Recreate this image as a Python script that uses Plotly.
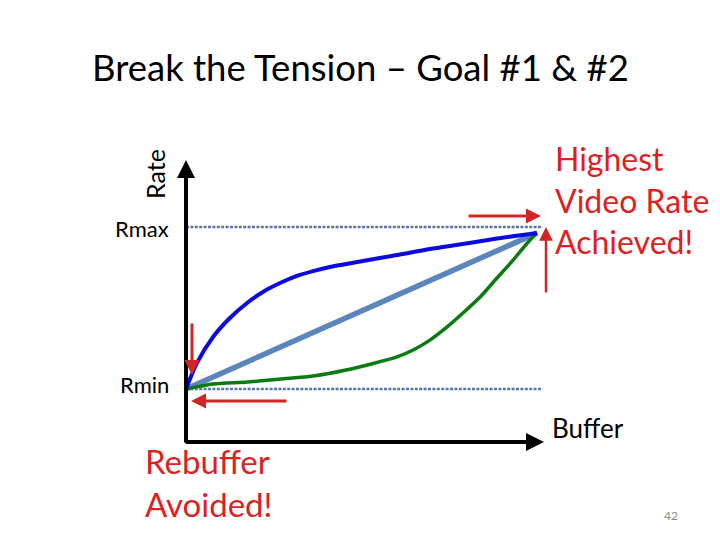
import plotly.graph_objects as go

# ---- data (buffer fraction 0..1, rate normalised Rmin=0 .. Rmax=1) ----
blue_buffer = [0.0, 0.031, 0.077, 0.125, 0.174, 0.219, 0.268, 0.316, 0.362, 0.410,
               0.504, 0.601, 0.695, 0.789, 0.886, 1.0]
blue_rate = [0.0, 0.160, 0.321, 0.438, 0.531, 0.599, 0.654, 0.698, 0.728, 0.753,
             0.790, 0.827, 0.864, 0.895, 0.929, 0.963]

green_buffer = [0.0, 0.077, 0.174, 0.268, 0.362, 0.456, 0.601, 0.647, 0.695, 0.744,
                0.789, 0.838, 0.886, 0.932, 0.980, 1.0]
green_rate = [0.0, 0.031, 0.043, 0.062, 0.080, 0.117, 0.198, 0.241, 0.302, 0.383,
              0.469, 0.568, 0.685, 0.796, 0.920, 0.963]

linear_buffer = [0.0, 1.0]
linear_rate = [0.0, 0.963]

ref_buffer = [0.0, 1.016]
rmax_rate = [1.0, 1.0]
rmin_rate = [0.0, 0.0]

title_text = "Break the Tension \u2013 Goal #1 & #2"
rate_labels = ["Rmax", "Rmin"]

# ---- figure ----
W, H = 720, 540
OFF = 8             # page body margin
X0, XS = 186, 351   # screen pixel of buffer 0, pixels per buffer unit
Y0, YS = 389, 162   # screen pixel of rate 0, pixels per rate unit


def u_of(p):
    return (p - X0) / XS


def r_of(p):
    return (Y0 - p) / YS


FONT = "Lato"
RED = "#dc1f1f"
ARED = "#cf2525"

fig = go.Figure()

dot_col = "#5a789e"
fig.add_trace(go.Scatter(x=ref_buffer, y=rmax_rate, mode="lines",
                         line=dict(color=dot_col, width=2.6, dash="3px,1.4px"), hoverinfo="skip"))
fig.add_trace(go.Scatter(x=ref_buffer, y=rmin_rate, mode="lines",
                         line=dict(color=dot_col, width=2.6, dash="3px,1.4px"), hoverinfo="skip"))
fig.add_trace(go.Scatter(x=linear_buffer, y=linear_rate, mode="lines",
                         line=dict(color="#5b86bb", width=5.5), hoverinfo="skip"))
fig.add_trace(go.Scatter(x=green_buffer, y=green_rate, mode="lines",
                         line=dict(color="#0a7a12", width=3.5, shape="spline", smoothing=0.7),
                         hoverinfo="skip"))
fig.add_trace(go.Scatter(x=blue_buffer, y=blue_rate, mode="lines",
                         line=dict(color="#0a0ae0", width=4, shape="spline", smoothing=0.7),
                         hoverinfo="skip"))

annotations = []


def arrow(x0p, y0p, x1p, y1p, color, width, size=1.0):
    annotations.append(dict(x=u_of(x1p), y=r_of(y1p), ax=u_of(x0p), ay=r_of(y0p),
                            xref="x", yref="y", axref="x", ayref="y", text="",
                            showarrow=True, arrowhead=2, arrowsize=size,
                            arrowwidth=width, arrowcolor=color))


# axes
arrow(186, 444, 186, 160, "black", 4, 0.9)
arrow(184, 442, 544, 442, "black", 4, 0.9)

# red arrows
arrow(467, 216, 541, 216, ARED, 3, 1.0)
arrow(546, 294, 546, 227, ARED, 2.5, 1.1)
arrow(192, 322, 192, 375, ARED, 3, 1.0)
arrow(288, 401, 191, 401, ARED, 3, 1.0)


def text(t, xp, yp, size, color="black", xanchor="left", angle=0, yanchor="middle"):
    annotations.append(dict(text=t, x=(xp - OFF) / W, y=1 - (yp - OFF) / H,
                            xref="paper", yref="paper", align=xanchor if xanchor != "center" else "center",
                            xanchor=xanchor, yanchor=yanchor, showarrow=False, textangle=angle,
                            font=dict(family=FONT, size=size, color=color)))


text(title_text, 360, 67, 36.5, xanchor="center")
text("Rate", 155, 174, 25, angle=-90, xanchor="center")
text(rate_labels[0], 171, 228, 22, xanchor="right")
text(rate_labels[1], 171, 384, 22, xanchor="right")
text("Buffer", 550, 428, 26)
text("Highest<br>Video Rate<br>Achieved!", 553, 200, 32, color=RED)
text("Rebuffer<br>Avoided!", 143, 482, 33, color=RED)
text("42", 671, 515, 12, color="#8a8a8a", xanchor="center")

fig.update_layout(
    width=W, height=H, margin=dict(l=0, r=0, t=0, b=0),
    paper_bgcolor="white", plot_bgcolor="white", showlegend=False,
    xaxis=dict(range=[u_of(OFF), u_of(W + OFF)], visible=False, fixedrange=True),
    yaxis=dict(range=[r_of(H + OFF), r_of(OFF)], visible=False, fixedrange=True),
    annotations=annotations,
)

fig.write_html("out.html")
